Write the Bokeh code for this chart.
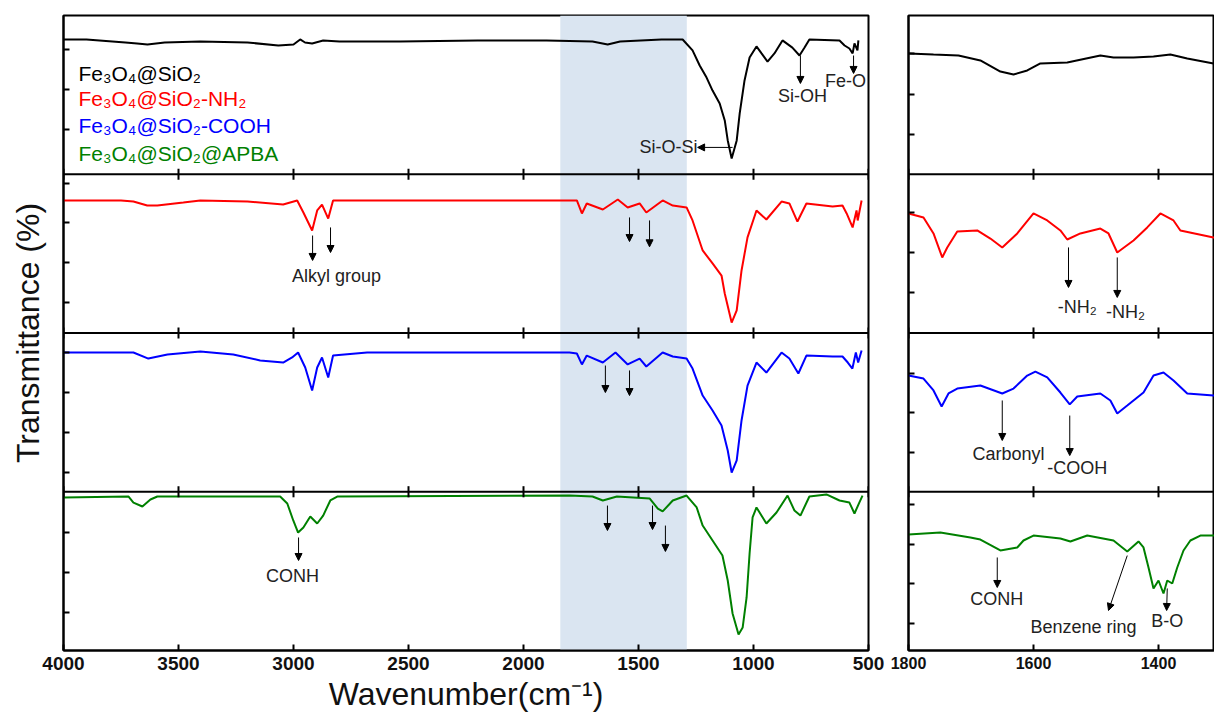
import numpy as np
from bokeh.plotting import figure
from bokeh.layouts import row
from bokeh.models import Range1d, FixedTicker, Span, BoxAnnotation, Arrow, NormalHead
from bokeh.core.properties import value
from bokeh.embed import file_html
from bokeh.resources import INLINE

FONT = "Liberation Sans"

# ---------------- data (relative transmittance within each stacked panel, 0..1) ----------------
series_names = ["Fe\u2083O\u2084@SiO\u2082", "Fe\u2083O\u2084@SiO\u2082-NH\u2082",
                "Fe\u2083O\u2084@SiO\u2082-COOH", "Fe\u2083O\u2084@SiO\u2082@APBA"]
series_colors = ["#000000", "#ff0000", "#0000ff", "#008000"]

black_wn = [4000, 3900, 3731, 3680, 3635, 3560, 3405, 3200, 3066, 3000, 2971, 2950, 2919, 2871, 2800,
            2537, 2200, 1900, 1700, 1634, 1580, 1400, 1308, 1265, 1234, 1204, 1178, 1147, 1125, 1112,
            1095, 1073, 1060, 1039, 1017, 987, 965, 939, 909, 874, 831, 800, 778, 757, 626, 604, 583,
            569, 561, 548, 544]
black_t = [0.849, 0.849, 0.830, 0.824, 0.817, 0.830, 0.836, 0.830, 0.811, 0.817, 0.849, 0.830, 0.824,
           0.842, 0.836, 0.836, 0.842, 0.842, 0.836, 0.817, 0.836, 0.849, 0.849, 0.780, 0.685, 0.609,
           0.527, 0.446, 0.339, 0.213, 0.099, 0.213, 0.383, 0.591, 0.735, 0.805, 0.761, 0.710, 0.761,
           0.843, 0.798, 0.748, 0.798, 0.849, 0.843, 0.811, 0.792, 0.761, 0.824, 0.780, 0.843]

red_wn = [4000, 3750, 3696, 3636, 3592, 3479, 3405, 3200, 3045, 2984, 2957, 2919, 2897, 2876, 2849,
          2828, 2500, 1800, 1768, 1746, 1725, 1655, 1590, 1547, 1495, 1466, 1395, 1351, 1291, 1265,
          1221, 1178, 1139, 1125, 1095, 1073, 1052, 1026, 987, 944, 878, 844, 809, 770, 656, 613,
          595, 569, 552, 547, 530]
red_t = [0.835, 0.835, 0.828, 0.803, 0.803, 0.822, 0.835, 0.828, 0.809, 0.835, 0.759, 0.646, 0.772,
         0.809, 0.721, 0.835, 0.835, 0.835, 0.835, 0.753, 0.816, 0.778, 0.841, 0.791, 0.816, 0.759,
         0.835, 0.803, 0.791, 0.709, 0.520, 0.438, 0.362, 0.249, 0.066, 0.142, 0.394, 0.602, 0.772,
         0.715, 0.828, 0.816, 0.702, 0.816, 0.797, 0.803, 0.753, 0.665, 0.772, 0.709, 0.835]

blue_wn = [4000, 3696, 3631, 3548, 3405, 3262, 3145, 3045, 3006, 2980, 2949, 2919, 2897, 2876, 2849,
           2828, 2680, 1800, 1768, 1746, 1725, 1655, 1600, 1547, 1495, 1466, 1395, 1351, 1291, 1265,
           1221, 1178, 1139, 1112, 1095, 1073, 1052, 1026, 987, 944, 878, 844, 805, 770, 656, 613,
           590, 570, 555, 545, 530]
blue_t = [0.877, 0.877, 0.839, 0.865, 0.883, 0.865, 0.827, 0.814, 0.846, 0.877, 0.783, 0.638, 0.783,
          0.846, 0.720, 0.858, 0.877, 0.877, 0.871, 0.802, 0.858, 0.814, 0.877, 0.802, 0.839, 0.789,
          0.877, 0.852, 0.839, 0.776, 0.606, 0.512, 0.417, 0.260, 0.121, 0.197, 0.449, 0.669, 0.814,
          0.751, 0.877, 0.839, 0.745, 0.858, 0.852, 0.852, 0.814, 0.776, 0.877, 0.814, 0.890]

green_wn = [4000, 3717, 3696, 3657, 3622, 3592, 3058, 3027, 3001, 2980, 2957, 2927, 2897, 2871, 2840,
            2810, 1800, 1700, 1655, 1594, 1451, 1416, 1395, 1351, 1291, 1247, 1221, 1178, 1135, 1112,
            1091, 1065, 1047, 1030, 1017, 1004, 987, 944, 900, 852, 822, 796, 757, 683, 626, 583,
            561, 540, 526]
green_t = [0.964, 0.970, 0.932, 0.907, 0.951, 0.970, 0.970, 0.926, 0.819, 0.743, 0.775, 0.844, 0.800,
           0.850, 0.945, 0.970, 0.976, 0.970, 0.945, 0.970, 0.957, 0.894, 0.876, 0.945, 0.976, 0.901,
           0.787, 0.693, 0.598, 0.441, 0.233, 0.101, 0.145, 0.334, 0.611, 0.838, 0.901, 0.800, 0.869,
           0.976, 0.882, 0.850, 0.970, 0.983, 0.945, 0.932, 0.863, 0.932, 0.976]

# zoomed region 1800-1300 cm-1
black_zwn = [1800, 1760, 1720, 1685, 1653, 1632, 1610, 1589, 1546, 1493, 1472, 1440, 1408, 1381, 1354, 1312, 1300]
black_zt = [0.761, 0.754, 0.748, 0.717, 0.647, 0.628, 0.654, 0.698, 0.704, 0.748, 0.735, 0.735, 0.741,
            0.754, 0.729, 0.698, 0.69]
red_zwn = [1800, 1776, 1760, 1746, 1738, 1722, 1690, 1669, 1650, 1626, 1600, 1578, 1557, 1546, 1525,
           1493, 1480, 1466, 1440, 1418, 1397, 1376, 1365, 1312, 1300]
red_zt = [0.753, 0.728, 0.627, 0.476, 0.539, 0.639, 0.646, 0.595, 0.539, 0.627, 0.753, 0.709, 0.646,
          0.589, 0.627, 0.658, 0.627, 0.507, 0.583, 0.665, 0.753, 0.709, 0.646, 0.602, 0.60]
blue_zwn = [1800, 1776, 1760, 1747, 1736, 1722, 1685, 1650, 1632, 1610, 1597, 1578, 1557, 1542, 1530,
            1493, 1477, 1466, 1450, 1424, 1408, 1392, 1376, 1354, 1312, 1300]
blue_zt = [0.732, 0.713, 0.638, 0.537, 0.619, 0.650, 0.669, 0.619, 0.650, 0.732, 0.757, 0.720, 0.625,
           0.550, 0.600, 0.619, 0.575, 0.493, 0.543, 0.625, 0.732, 0.751, 0.701, 0.619, 0.606, 0.606]
green_zwn = [1800, 1749, 1701, 1685, 1653, 1626, 1616, 1600, 1557, 1541, 1514, 1472, 1450, 1432, 1424,
             1416, 1408, 1400, 1392, 1386, 1378, 1370, 1360, 1349, 1333, 1312, 1300]
green_zt = [0.731, 0.743, 0.712, 0.699, 0.630, 0.649, 0.693, 0.724, 0.706, 0.687, 0.724, 0.693, 0.624,
            0.687, 0.649, 0.523, 0.391, 0.441, 0.359, 0.441, 0.422, 0.523, 0.630, 0.693, 0.724, 0.724, 0.72]

left_xticks = [4000, 3500, 3000, 2500, 2000, 1500, 1000, 500]
right_xticks = [1800, 1600, 1400]
left_yticks = [3.786, 3.534, 3.282, 2.942, 2.696, 2.444, 2.192, 1.877, 1.625, 1.373, 1.121, 0.743, 0.491, 0.239]
right_yticks = [3.761, 3.502, 3.250, 2.759, 2.507, 2.255, 1.745, 1.499, 1.247, 0.920, 0.668, 0.422, 0.170]
highlight_band = (1840, 1290)

ANN = "#222222"


def base_fig(xr, fw, mbl, mbr):
    p = figure(frame_width=fw, frame_height=635, min_border_left=mbl, min_border_right=mbr,
               min_border_top=15, min_border_bottom=68, x_range=Range1d(*xr), y_range=Range1d(0, 4),
               output_backend="svg", toolbar_location=None, tools="")
    p.xgrid.visible = False
    p.ygrid.visible = False
    p.outline_line_color = "black"
    p.outline_line_width = 2
    p.outline_line_alpha = 1
    p.background_fill_color = "white"
    p.border_fill_color = "white"
    for ax in (p.xaxis[0], p.yaxis[0]):
        ax.axis_line_width = 2
        ax.major_tick_line_width = 2
        ax.major_tick_in = 6
        ax.major_tick_out = 0
        ax.minor_tick_in = 0
        ax.minor_tick_out = 0
    p.yaxis.major_label_text_font_size = "1px"
    p.yaxis.major_label_text_color = None
    p.yaxis.major_label_standoff = 0
    p.xaxis.major_label_text_font = FONT
    p.xaxis.major_label_text_font_style = "bold"
    p.xaxis.major_label_text_color = "#111111"
    p.xaxis.major_label_standoff = 6
    for k in (1, 2, 3):
        p.add_layout(Span(location=k, dimension="width", line_color="black", line_width=2))
    return p


# ---------------- left: full range ----------------
left = base_fig((4000, 500), 805, 63, 20)
left.add_layout(BoxAnnotation(left=highlight_band[0], right=highlight_band[1], fill_color="#dae5f1",
                              fill_alpha=1, line_color=None, level="underlay"))
left.xaxis.ticker = FixedTicker(ticks=left_xticks)
left.yaxis.ticker = FixedTicker(ticks=left_yticks)
left.xaxis.major_label_text_font_size = "19px"
left.xaxis.axis_label = "Wavenumber(cm\u207b\u00b9)"
left.xaxis.axis_label_text_font = FONT
left.xaxis.axis_label_text_font_style = "normal"
left.xaxis.axis_label_text_font_size = "32px"
left.xaxis.axis_label_text_color = "#111111"
left.xaxis.axis_label_standoff = 3
left.yaxis.axis_label = "Transmittance (%)"
left.yaxis.axis_label_text_font = FONT
left.yaxis.axis_label_text_font_style = "normal"
left.yaxis.axis_label_text_font_size = "32px"
left.yaxis.axis_label_text_color = "#111111"
left.yaxis.axis_label_standoff = 18

full = [(black_wn, black_t), (red_wn, red_t), (blue_wn, blue_t), (green_wn, green_t)]
zoom = [(black_zwn, black_zt), (red_zwn, red_zt), (blue_zwn, blue_zt), (green_zwn, green_zt)]

for i, (wn, t) in enumerate(full):
    left.line(wn, np.array(t) + (3 - i), line_color=series_colors[i], line_width=2)

# x-tick marks on panel dividers
for k in (1, 2, 3):
    left.segment(x0=left_xticks, y0=[k - 0.035] * len(left_xticks), x1=left_xticks,
                 y1=[k + 0.035] * len(left_xticks), line_color="black", line_width=2)

# legend text
left.text(x=[3935] * 4, y=[3.632, 3.475, 3.307, 3.129], text=series_names, text_color=series_colors,
          text_font=value(FONT), text_font_size="21px", text_align="left", text_baseline="alphabetic")

# ---------------- right: zoomed 1800-1300 ----------------
right = base_fig((1800, 1310.4), 306, 20, 0)
right.xaxis.ticker = FixedTicker(ticks=right_xticks)
right.yaxis.ticker = FixedTicker(ticks=right_yticks)
right.xaxis.major_label_text_font_size = "16px"
for i, (wn, t) in enumerate(zoom):
    right.line(wn, np.array(t) + (3 - i), line_color=series_colors[i], line_width=2)
for k in (1, 2, 3):
    right.segment(x0=right_xticks, y0=[k - 0.035] * len(right_xticks), x1=right_xticks,
                  y1=[k + 0.035] * len(right_xticks), line_color="black", line_width=2)


def arrow(p, x0, y0, x1, y1):
    p.add_layout(Arrow(end=NormalHead(size=7, fill_color="black", line_color="black", line_width=1),
                       x_start=x0, y_start=y0, x_end=x1, y_end=y1, line_color="black", line_width=1))


def label(p, x, y, s, align="center"):
    p.text(x=[x], y=[y], text=[s], text_color=ANN, text_font=value(FONT), text_font_size="18px",
           text_align=align, text_baseline="middle")


# left annotations
arrow(left, 1091, 3.169, 1243, 3.169)
label(left, 1243, 3.169, "Si-O-Si", "right")
arrow(left, 796, 3.748, 796, 3.572)
label(left, 787, 3.49, "Si-OH")
arrow(left, 565, 3.748, 565, 3.635)
label(left, 600, 3.585, "Fe-O")
arrow(left, 2917, 2.614, 2917, 2.457)
arrow(left, 2839, 2.665, 2839, 2.507)
label(left, 2813, 2.36, "Alkyl group")
arrow(left, 1539, 2.728, 1539, 2.576)
arrow(left, 1452, 2.709, 1452, 2.543)
arrow(left, 1644, 1.795, 1644, 1.625)
arrow(left, 1539, 1.764, 1539, 1.606)
arrow(left, 2978, 0.712, 2978, 0.567)
label(left, 3004, 0.47, "CONH")
arrow(left, 1635, 0.913, 1635, 0.756)
arrow(left, 1439, 0.913, 1439, 0.762)
arrow(left, 1383, 0.787, 1383, 0.624)

# right annotations
arrow(right, 1544, 2.539, 1544, 2.287)
label(right, 1530, 2.165, "-NH\u2082")
arrow(right, 1466, 2.476, 1466, 2.224)
label(right, 1453, 2.135, "-NH\u2082")
arrow(right, 1650, 1.575, 1650, 1.323)
label(right, 1640, 1.235, "Carbonyl")
arrow(right, 1542, 1.480, 1542, 1.228)
label(right, 1530, 1.148, "-COOH")
arrow(right, 1658, 0.586, 1658, 0.397)
label(right, 1659, 0.322, "CONH")
arrow(right, 1450, 0.598, 1480, 0.252)
label(right, 1520, 0.15, "Benzene ring")
arrow(right, 1386, 0.391, 1387, 0.252)
label(right, 1386, 0.183, "B-O")

layout = row(left, right, spacing=0)
open("out.html", "w").write(file_html(layout, INLINE))
